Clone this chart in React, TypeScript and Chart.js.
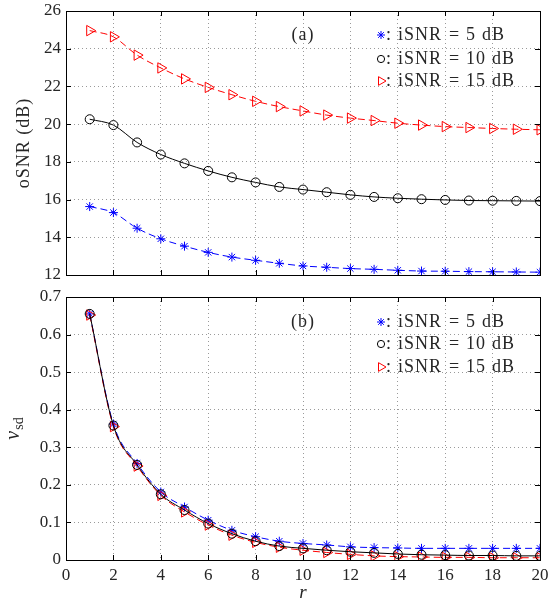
import React, { useEffect, useRef } from 'react';
import { Chart, registerables } from 'chart.js';

Chart.register(...registerables);

// ---------- data ----------
const rValues = [1, 2, 3, 4, 5, 6, 7, 8, 9, 10, 11, 12, 13, 14, 15, 16, 17, 18, 19, 20];
const xTickValues = [0, 2, 4, 6, 8, 10, 12, 14, 16, 18, 20];
const osnrTickValues = [12, 14, 16, 18, 20, 22, 24, 26];
const vsdTickValues = [0, 0.1, 0.2, 0.3, 0.4, 0.5, 0.6, 0.7];

const osnr5 = [15.63, 15.31, 14.48, 13.92, 13.53, 13.2, 12.95, 12.78, 12.62, 12.48, 12.41, 12.34, 12.3, 12.25, 12.21, 12.2, 12.18, 12.17, 12.16, 12.15];
const osnr10 = [20.26, 19.95, 19.03, 18.39, 17.92, 17.52, 17.18, 16.91, 16.67, 16.53, 16.39, 16.25, 16.14, 16.07, 16.02, 15.98, 15.95, 15.94, 15.93, 15.92];
const osnr15 = [24.96, 24.63, 23.66, 22.98, 22.4, 21.95, 21.56, 21.21, 20.93, 20.7, 20.48, 20.32, 20.19, 20.05, 19.95, 19.87, 19.82, 19.77, 19.73, 19.7];

const vsd5 = [0.655, 0.362, 0.257, 0.181, 0.141, 0.106, 0.079, 0.062, 0.05, 0.044, 0.04, 0.035, 0.033, 0.032, 0.031, 0.031, 0.031, 0.031, 0.031, 0.031];
const vsd10 = [0.655, 0.358, 0.253, 0.175, 0.133, 0.097, 0.07, 0.05, 0.037, 0.031, 0.026, 0.022, 0.019, 0.016, 0.014, 0.013, 0.012, 0.012, 0.011, 0.011];
const vsd15 = [0.652, 0.355, 0.25, 0.172, 0.128, 0.093, 0.066, 0.047, 0.034, 0.026, 0.02, 0.015, 0.011, 0.009, 0.008, 0.007, 0.007, 0.006, 0.006, 0.006];

const legendValues = ['5', '10', '15'];

// ---------- styles ----------
const SERIF = '"Liberation Serif", "Times New Roman", serif';
const TEXT = '#262626';
const BLUE = '#0000ff';
const RED = '#ff0000';
const BLACK = '#000000';

type MarkerKind = 'star' | 'circle' | 'triRight';

function drawMarker(ctx: CanvasRenderingContext2D, kind: MarkerKind, x: number, y: number, r: number, color: string) {
  ctx.save();
  ctx.strokeStyle = color;
  ctx.lineWidth = 1;
  ctx.beginPath();
  if (kind === 'star') {
    const d = r * Math.SQRT1_2;
    ctx.moveTo(x - r, y); ctx.lineTo(x + r, y);
    ctx.moveTo(x, y - r); ctx.lineTo(x, y + r);
    ctx.moveTo(x - d, y - d); ctx.lineTo(x + d, y + d);
    ctx.moveTo(x - d, y + d); ctx.lineTo(x + d, y - d);
  } else if (kind === 'circle') {
    ctx.arc(x, y, r, 0, Math.PI * 2);
  } else {
    ctx.moveTo(x + r, y);
    ctx.lineTo(x - r / 2, y - r * 0.866);
    ctx.lineTo(x - r / 2, y + r * 0.866);
    ctx.closePath();
  }
  ctx.stroke();
  ctx.restore();
}

function makeFramePlugin(panel: string, rowOffsets: number[], drawYTitle: (ctx: CanvasRenderingContext2D, cy: number) => void) {
  return {
    id: 'frame' + panel,
    afterDraw(chart: any) {
      const ctx: CanvasRenderingContext2D = chart.ctx;
      const a = chart.chartArea;
      const xs = chart.scales.x;
      const ys = chart.scales.y;
      ctx.save();
      // inward ticks on all four sides
      ctx.strokeStyle = BLACK;
      ctx.lineWidth = 1;
      ctx.beginPath();
      const tl = 5;
      xs.ticks.forEach((t: any) => {
        const px = Math.round(xs.getPixelForValue(t.value)) + 0.5;
        ctx.moveTo(px, a.bottom); ctx.lineTo(px, a.bottom - tl);
        ctx.moveTo(px, a.top); ctx.lineTo(px, a.top + tl);
      });
      ys.ticks.forEach((t: any) => {
        const py = Math.round(ys.getPixelForValue(t.value)) + 0.5;
        ctx.moveTo(a.left, py); ctx.lineTo(a.left + tl, py);
        ctx.moveTo(a.right, py); ctx.lineTo(a.right - tl, py);
      });
      ctx.stroke();
      // box
      ctx.strokeRect(Math.round(a.left) + 0.5, Math.round(a.top) + 0.5, Math.round(a.right - a.left), Math.round(a.bottom - a.top));

      // panel label and legend
      ctx.fillStyle = TEXT;
      ctx.textBaseline = 'middle';
      ctx.font = `18px ${SERIF}`;
      (ctx as any).letterSpacing = '1px';
      ctx.textAlign = 'center';
      ctx.fillText(panel, xs.getPixelForValue(10), a.top + rowOffsets[0]);
      ctx.textAlign = 'left';
      const kinds: MarkerKind[] = ['star', 'circle', 'triRight'];
      const colors = [BLUE, BLACK, RED];
      const sizes = [4, 3.6, 5];
      const mx = 381;
      legendValues.forEach((v, i) => {
        const y = a.top + rowOffsets[i];
        drawMarker(ctx, kinds[i], mx, y, sizes[i], colors[i]);
        ctx.fillStyle = TEXT;
        ctx.fillText(':', 386, y);
        ctx.fillText('iSNR', 398, y);
        ctx.fillText('=', 449, y);
        ctx.fillText(v, 466, y);
        const w = ctx.measureText(v).width;
        ctx.fillText('dB', 466 + w + 6, y);
      });
      (ctx as any).letterSpacing = '0px';

      drawYTitle(ctx, (a.top + a.bottom) / 2);
      ctx.restore();
    },
  };
}

function makeOptions(yMin: number, yMax: number, yTickVals: number[], xLabels: boolean, bottomHeight: number, topPad: number) {
  return {
    responsive: false,
    animation: false as const,
    events: [] as any[],
    layout: { padding: { top: topPad, right: 9, left: 0, bottom: 0 } },
    plugins: {
      legend: { display: false },
      tooltip: { enabled: false },
    },
    scales: {
      x: {
        type: 'linear' as const,
        min: 0,
        max: 20,
        afterBuildTicks: (scale: any) => {
          scale.ticks = xTickValues.map((v) => ({ value: v }));
        },
        afterFit: (scale: any) => {
          scale.height = bottomHeight;
          scale.paddingLeft = 0;
          scale.paddingRight = 0;
          scale.paddingTop = 0;
          scale.paddingBottom = 0;
        },
        ticks: {
          display: xLabels,
          padding: 5,
          color: TEXT,
          font: { family: SERIF, size: 17 },
          maxRotation: 0,
          autoSkip: false,
        },
        grid: { color: '#9a9a9a', lineWidth: 1, drawTicks: false },
        border: { display: false, dash: [1, 3] },
      },
      y: {
        type: 'linear' as const,
        min: yMin,
        max: yMax,
        afterBuildTicks: (scale: any) => {
          scale.ticks = yTickVals.map((v) => ({ value: v }));
        },
        afterFit: (scale: any) => {
          scale.width = 66;
          scale.paddingLeft = 0;
          scale.paddingRight = 0;
          scale.paddingTop = 0;
          scale.paddingBottom = 0;
        },
        ticks: {
          padding: 5,
          color: TEXT,
          font: { family: SERIF, size: 17 },
          autoSkip: false,
          callback: (v: number) => (Number.isInteger(v) ? String(v) : v.toFixed(1)),
        },
        grid: { color: '#9a9a9a', lineWidth: 1, drawTicks: false },
        border: { display: false, dash: [1, 3] },
      },
    },
  };
}

function series(values: number[], kind: MarkerKind, color: string, dashed: boolean, r: number) {
  return {
    data: rValues.map((x, i) => ({ x, y: values[i] })),
    borderColor: color,
    borderWidth: 1,
    borderDash: dashed ? [7, 4] : [],
    cubicInterpolationMode: 'monotone' as const,
    fill: false,
    pointStyle: kind === 'star' ? 'star' : kind === 'circle' ? 'circle' : 'triangle',
    pointRotation: kind === 'triRight' ? 90 : 0,
    pointRadius: r,
    pointBorderColor: color,
    pointBackgroundColor: 'rgba(0,0,0,0)',
    pointBorderWidth: 1,
  };
}

function drawOsnrTitle(ctx: CanvasRenderingContext2D, cy: number) {
  ctx.save();
  ctx.translate(29, cy);
  ctx.rotate(-Math.PI / 2);
  ctx.fillStyle = TEXT;
  ctx.font = `18px ${SERIF}`;
  (ctx as any).letterSpacing = '1px';
  ctx.textAlign = 'center';
  ctx.textBaseline = 'alphabetic';
  ctx.fillText('oSNR (dB)', 0, 0);
  ctx.restore();
}

function drawVsdTitle(ctx: CanvasRenderingContext2D, cy: number) {
  ctx.save();
  ctx.translate(19, cy);
  ctx.rotate(-Math.PI / 2);
  ctx.fillStyle = TEXT;
  ctx.textBaseline = 'alphabetic';
  ctx.textAlign = 'left';
  ctx.font = `italic 20px ${SERIF}`;
  const wv = ctx.measureText('v').width;
  ctx.font = `14px ${SERIF}`;
  const ws = ctx.measureText('sd').width;
  const x0 = -(wv + ws + 1) / 2;
  ctx.font = `italic 20px ${SERIF}`;
  ctx.fillText('v', x0, 0);
  ctx.font = `14px ${SERIF}`;
  ctx.fillText('sd', x0 + wv + 1, 4);
  ctx.restore();
}

const rTitlePlugin = {
  id: 'rTitle',
  afterDraw(chart: any) {
    const ctx: CanvasRenderingContext2D = chart.ctx;
    const xs = chart.scales.x;
    ctx.save();
    ctx.fillStyle = TEXT;
    ctx.font = `italic 19px ${SERIF}`;
    ctx.textAlign = 'center';
    ctx.textBaseline = 'alphabetic';
    ctx.fillText('r', xs.getPixelForValue(10), chart.chartArea.bottom + 38);
    ctx.restore();
  },
};

export default function App() {
  const topRef = useRef<HTMLCanvasElement>(null);
  const botRef = useRef<HTMLCanvasElement>(null);

  useEffect(() => {
    const top = new Chart(topRef.current as HTMLCanvasElement, {
      type: 'line',
      data: {
        datasets: [
          series(osnr10, 'circle', BLACK, false, 4.5),
          series(osnr15, 'triRight', RED, true, 6),
          series(osnr5, 'star', BLUE, true, 4.5),
        ] as any,
      },
      options: makeOptions(12, 26, osnrTickValues, false, 10, 11) as any,
      plugins: [makeFramePlugin('(a)', [24, 48, 70], drawOsnrTitle)],
    });
    const bot = new Chart(botRef.current as HTMLCanvasElement, {
      type: 'line',
      data: {
        datasets: [
          series(vsd10, 'circle', BLACK, false, 4.5),
          series(vsd15, 'triRight', RED, true, 6),
          series(vsd5, 'star', BLUE, true, 4.5),
        ] as any,
      },
      options: makeOptions(0, 0.7, vsdTickValues, true, 43, 12) as any,
      plugins: [makeFramePlugin('(b)', [25, 47, 70], drawVsdTitle), rTitlePlugin],
    });
    return () => {
      top.destroy();
      bot.destroy();
    };
  }, []);

  return (
    <div style={{ position: 'absolute', left: 0, top: 0, width: 549, height: 603, background: '#fff' }}>
      <canvas ref={topRef} width={549} height={285} style={{ position: 'absolute', left: 0, top: 0, width: 549, height: 285 }} />
      <canvas ref={botRef} width={549} height={318} style={{ position: 'absolute', left: 0, top: 285, width: 549, height: 318 }} />
    </div>
  );
}
